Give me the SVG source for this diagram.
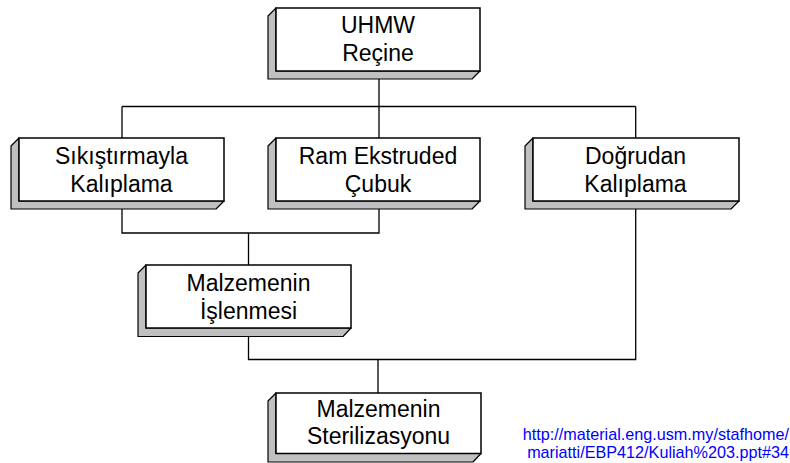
<svg xmlns="http://www.w3.org/2000/svg" width="790" height="463" viewBox="0 0 790 463">
<style>
.front{fill:#fff;stroke:#000;stroke-width:1.5}
.side{fill:#c0c0c0;stroke:#000;stroke-width:1.2;stroke-linejoin:round}
.lbl{font-family:"Liberation Sans",Arial,sans-serif;font-size:23px;fill:#000;text-anchor:middle}
.conn{fill:none;stroke:#000;stroke-width:1.3}
.url{font-family:"Liberation Sans",Arial,sans-serif;font-size:16.2px;fill:#0000ff;text-anchor:end}
</style>
<rect width="790" height="463" fill="#fff"/>
<g id="connectors">
<path class="conn" d="M379 71 V106.5 M122 106.5 H635.7 M122 106.5 V138 M379 106.5 V138 M635.7 106.5 V138"/>
<path class="conn" d="M122 201 V233 H379 V201 M248.5 233 V265"/>
<path class="conn" d="M248.5 328 V359.5 H635.7 V201 M378 359.5 V393"/>
</g>
<g id="n1">
<path class="side" d="M276 8 L268 16 L268 79 L472 79 L480 71 L276 71 Z"/>
<rect class="front" x="276" y="8" width="204" height="63"/>
<text class="lbl" x="378" y="33">UHMW</text>
<text class="lbl" x="378" y="61">Reçine</text>
</g>
<g id="n2">
<path class="side" d="M19 138 L11 146 L11 209 L216 209 L224 201 L19 201 Z"/>
<rect class="front" x="19" y="138" width="205" height="63"/>
<text class="lbl" x="121.5" y="163.5">Sıkıştırmayla</text>
<text class="lbl" x="121.5" y="191.5">Kalıplama</text>
</g>
<g id="n3">
<path class="side" d="M276 138 L268 146 L268 209 L472 209 L480 201 L276 201 Z"/>
<rect class="front" x="276" y="138" width="204" height="63"/>
<text class="lbl" x="378" y="163.5">Ram Ekstruded</text>
<text class="lbl" x="378" y="191.5">Çubuk</text>
</g>
<g id="n4">
<path class="side" d="M533 138 L525 146 L525 209 L731 209 L739 201 L533 201 Z"/>
<rect class="front" x="533" y="138" width="206" height="63"/>
<text class="lbl" x="635.5" y="163.5">Doğrudan</text>
<text class="lbl" x="635.5" y="191.5">Kalıplama</text>
</g>
<g id="n5">
<path class="side" d="M146 265 L138 273 L138 336.5 L343 336.5 L351 328 L146 328 Z"/>
<rect class="front" x="146" y="265" width="205" height="63"/>
<text class="lbl" x="248.5" y="291">Malzemenin</text>
<text class="lbl" x="248.5" y="318.5">İşlenmesi</text>
</g>
<g id="n6">
<path class="side" d="M276 393 L268 401 L268 462 L473 462 L481 453.5 L276 453.5 Z"/>
<rect class="front" x="276" y="393" width="205" height="60.5"/>
<text class="lbl" x="378.5" y="417">Malzemenin</text>
<text class="lbl" x="378.5" y="443.5">Sterilizasyonu</text>
</g>
<g id="url">
<text class="url" x="789" y="440">http://material.eng.usm.my/stafhome/</text>
<text class="url" x="789" y="458">mariatti/EBP412/Kuliah%203.ppt#34</text>
</g>
</svg>
